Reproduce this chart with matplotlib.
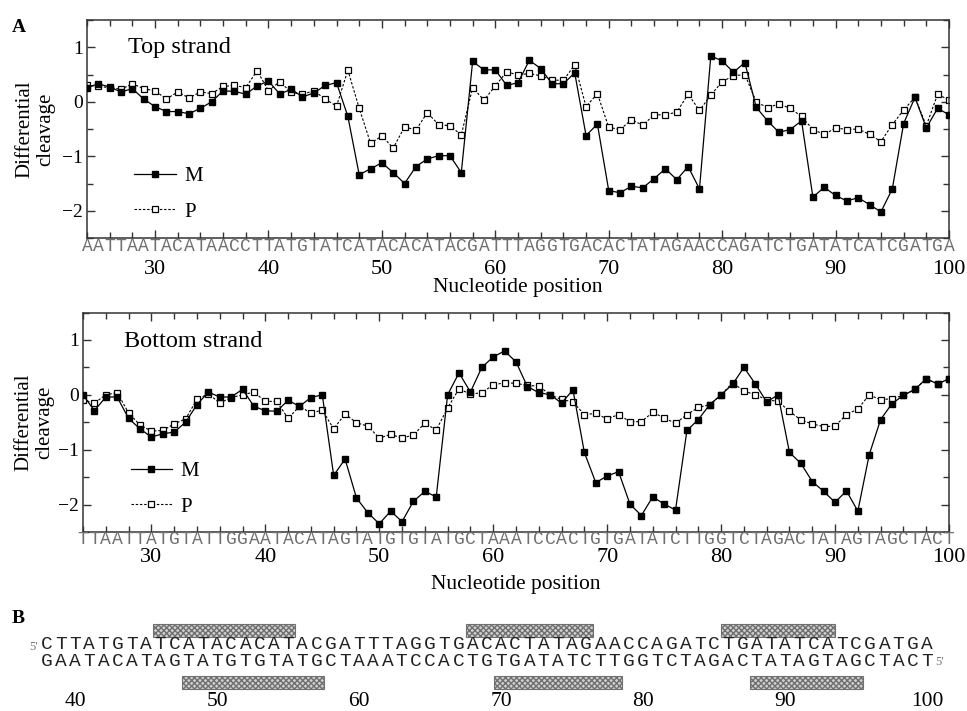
import numpy as np
import matplotlib
matplotlib.use("Agg")
import matplotlib.pyplot as plt
from matplotlib.patches import Rectangle
from matplotlib.ticker import MultipleLocator
import matplotlib.transforms as mtransforms

# sequences (position 24 .. 100)
seq_start = 24
top_seq = "AATTAATACATAACCTTATGTATCATACACATACGATTTAGGTGACACTATAGAACCAGATCTGATATCATCGATGA"
bottom_seq = "TTAATTATGTATTGGAATACATAGTATGTGTATGCTAAATCCACTGTGATATCTTGGTCTAGACTATAGTAGCTACT"

# differential cleavage, top strand
top_M = [0.26, 0.33, 0.27, 0.18, 0.24, 0.05, -0.09, -0.18, -0.18, -0.22,
         -0.12, 0.00, 0.20, 0.19, 0.14, 0.29, 0.38, 0.14, 0.23, 0.09,
         0.16, 0.30, 0.35, -0.27, -1.34, -1.23, -1.12, -1.30, -1.50, -1.19,
         -1.05, -0.99, -0.99, -1.30, 0.74, 0.585, 0.585, 0.30, 0.35, 0.76,
         0.61, 0.33, 0.33, 0.53, -0.62, -0.41, -1.63, -1.67, -1.55, -1.58,
         -1.41, -1.23, -1.43, -1.19, -1.60, 0.84, 0.75, 0.54, 0.72, -0.10,
         -0.35, -0.56, -0.51, -0.35, -1.75, -1.57, -1.72, -1.82, -1.76, -1.89,
         -2.02, -1.60, -0.40, 0.08, -0.48, -0.12, -0.24]
top_P = [0.30, 0.28, 0.26, 0.23, 0.33, 0.24, 0.20, 0.05, 0.18, 0.07,
         0.18, 0.15, 0.28, 0.30, 0.26, 0.57, 0.20, 0.37, 0.17, 0.14,
         0.20, 0.05, -0.08, 0.58, -0.12, -0.76, -0.63, -0.85, -0.46, -0.52,
         -0.20, -0.42, -0.44, -0.61, 0.26, 0.03, 0.29, 0.55, 0.49, 0.52,
         0.475, 0.40, 0.39, 0.68, -0.09, 0.15, -0.47, -0.51, -0.33, -0.43,
         -0.24, -0.24, -0.19, 0.14, -0.16, 0.12, 0.37, 0.475, 0.50, 0.00,
         -0.11, -0.04, -0.12, -0.27, -0.51, -0.60, -0.48, -0.51, -0.50, -0.60,
         -0.73, -0.42, -0.15, 0.08, -0.44, 0.14, 0.03]

# differential cleavage, bottom strand
bottom_M = [0.00, -0.29, -0.04, -0.04, -0.43, -0.62, -0.77, -0.71, -0.68, -0.50,
            -0.18, 0.05, -0.04, -0.04, 0.10, -0.21, -0.29, -0.30, -0.10, -0.21,
            -0.05, 0.00, -1.47, -1.17, -1.88, -2.15, -2.35, -2.12, -2.31, -1.94,
            -1.76, -1.86, 0.00, 0.40, 0.05, 0.50, 0.69, 0.80, 0.60, 0.15,
            0.04, 0.00, -0.15, 0.09, -1.05, -1.60, -1.48, -1.40, -1.99, -2.20,
            -1.86, -1.99, -2.10, -0.65, -0.45, -0.18, 0.00, 0.19, 0.50, 0.20,
            -0.13, 0.00, -1.05, -1.25, -1.58, -1.76, -1.96, -1.75, -2.12, -1.09,
            -0.45, -0.16, -0.01, 0.10, 0.29, 0.20, 0.29]
bottom_P = [-0.09, -0.15, 0.00, 0.04, -0.33, -0.55, -0.66, -0.65, -0.53, -0.44,
            -0.085, 0.02, -0.15, -0.05, 0.00, 0.05, -0.12, -0.12, -0.43, -0.21,
            -0.33, -0.28, -0.62, -0.35, -0.51, -0.57, -0.79, -0.72, -0.79, -0.73,
            -0.52, -0.64, -0.24, 0.11, 0.01, 0.04, 0.18, 0.22, 0.21, 0.17,
            0.16, 0.00, -0.085, -0.13, -0.36, -0.34, -0.44, -0.36, -0.49, -0.49,
            -0.32, -0.42, -0.52, -0.36, -0.23, -0.18, 0.00, 0.22, 0.07, 0.00,
            -0.09, -0.12, -0.30, -0.46, -0.53, -0.58, -0.57, -0.36, -0.26, 0.00,
            -0.09, -0.07, -0.01, 0.10, 0.29, 0.20, 0.29]

# panel B: protected regions (first, last nucleotide)
seqB_start = 38
top_boxes = [(46, 55), (68, 76), (86, 93)]
bottom_boxes = [(48, 57), (70, 78), (88, 95)]
xticks_main = [30, 40, 50, 60, 70, 80, 90, 100]
xticks_B = [40, 50, 60, 70, 80, 90, 100]

positions = np.arange(seq_start, seq_start + len(top_seq))

SERIF = ["Liberation Serif", "DejaVu Serif"]
MONO = "Liberation Mono"
plt.rcParams["font.family"] = SERIF
plt.rcParams["axes.unicode_minus"] = True
plt.rcParams["hatch.color"] = "#707070"

W, H = 967, 711
fig = plt.figure(figsize=(W / 100, H / 100), dpi=100)


def px_axes(l, t, r, b):
    return fig.add_axes([l / W, 1 - b / H, (r - l) / W, (b - t) / H])


def draw_panel(ax, seq, m_vals, p_vals, title, title_y, let_y, tick_pad, xlab_y, ylab_x, leg_y):
    ax.plot(positions, p_vals, color="black", lw=0.8, ls=(0, (2.2, 1.6)),
            marker="s", ms=5, mfc="white", mec="black", mew=0.9, label="P", zorder=2)
    ax.plot(positions, m_vals, color="black", lw=0.9, ls="-",
            marker="s", ms=4.6, mfc="black", mec="black", label="M", zorder=3)
    ax.set_xlim(24, 100)
    ax.set_ylim(-2.5, 1.5)
    ax.xaxis.set_major_locator(plt.FixedLocator(xticks_main))
    ax.xaxis.set_minor_locator(MultipleLocator(2))
    ax.yaxis.set_major_locator(MultipleLocator(1))
    ax.yaxis.set_minor_locator(MultipleLocator(0.5))
    ax.tick_params(which="both", direction="in", top=True, right=True,
                   color="#333333", width=1.0)
    ax.tick_params(which="major", length=6)
    ax.tick_params(which="minor", length=4.5)
    ax.tick_params(axis="x", which="major", labelsize=16, pad=tick_pad)
    ax.tick_params(axis="y", which="major", labelsize=14, pad=3)
    for sp in ax.spines.values():
        sp.set_color("#333333")
        sp.set_linewidth(1.1)

    # sequence letters under the axis
    trans = mtransforms.blended_transform_factory(ax.transData, ax.transAxes)
    for p, ch in zip(positions, seq):
        ax.text(p, let_y, ch, transform=trans, ha="center", va="center",
                family=MONO, fontsize=13, color="#707070", clip_on=False)

    ax.text(0.047, title_y, title, transform=ax.transAxes, fontsize=17.5,
            va="baseline", ha="left")
    ax.set_xlabel("Nucleotide position", fontsize=15.5)
    ax.xaxis.set_label_coords(0.5, xlab_y)
    ax.set_ylabel("Differential\ncleavage", fontsize=15, linespacing=1.12)
    ax.yaxis.set_label_coords(ylab_x, 0.5)

    h, l = ax.get_legend_handles_labels()
    ax.legend(h[::-1], l[::-1], loc="lower left", bbox_to_anchor=(0.055, leg_y),
              frameon=False, fontsize=15, handlelength=2.0, handletextpad=0.4,
              labelspacing=0.75, borderpad=0, borderaxespad=0)


ax1 = px_axes(87, 20, 949, 238)
draw_panel(ax1, top_seq, top_M, top_P, "Top strand", 0.85, -0.037, 15.5, -0.185, -0.037, 0.075)

ax2 = px_axes(83, 312.5, 949, 532)
draw_panel(ax2, bottom_seq, bottom_M, bottom_P, "Bottom strand", 0.845, -0.034, 11.5, -0.196, -0.033, 0.07)

fig.text(12 / W, 1 - 32 / H, "A", fontsize=14, fontweight="bold", ha="left", va="baseline")
fig.text(12 / W, 1 - 623 / H, "B", fontsize=14, fontweight="bold", ha="left", va="baseline")

# panel B: duplex with protected regions
axB = px_axes(0, 600, W, H)
axB.set_xlim(40 - 75 / 14.2, 40 + (W - 75) / 14.2)
axB.set_ylim(H, 600)
axB.axis("off")

seqB_top = top_seq[seqB_start - seq_start:]
seqB_bot = bottom_seq[seqB_start - seq_start:]
# one text per base pair column: top strand over bottom strand
for i, (a, b) in enumerate(zip(seqB_top, seqB_bot)):
    axB.text(seqB_start + i, 653, a + "\n" + b, ha="center", va="center",
             multialignment="center", family=MONO, fontsize=14,
             linespacing=1.02, color="#222222")

axB.text(seqB_start - 0.6, 650, "5\u2032", ha="right", va="baseline",
         fontsize=9, color="#777777")
axB.text(100 + 0.6, 665, "5\u2032", ha="left", va="baseline",
         fontsize=9, color="#777777")

for a, b in top_boxes:
    axB.add_patch(Rectangle((a - 0.5, 624), b - a + 1, 13, facecolor="#d0d0d0",
                            edgecolor="#707070", hatch="xxxxxx", lw=0.8))
for a, b in bottom_boxes:
    axB.add_patch(Rectangle((a - 0.5, 675.5), b - a + 1, 13.5, facecolor="#d0d0d0",
                            edgecolor="#707070", hatch="xxxxxx", lw=0.8))

for t in xticks_B:
    axB.text(t, 701, str(t), ha="center", va="center", fontsize=15.5)

fig.savefig("out.png", dpi=100)
